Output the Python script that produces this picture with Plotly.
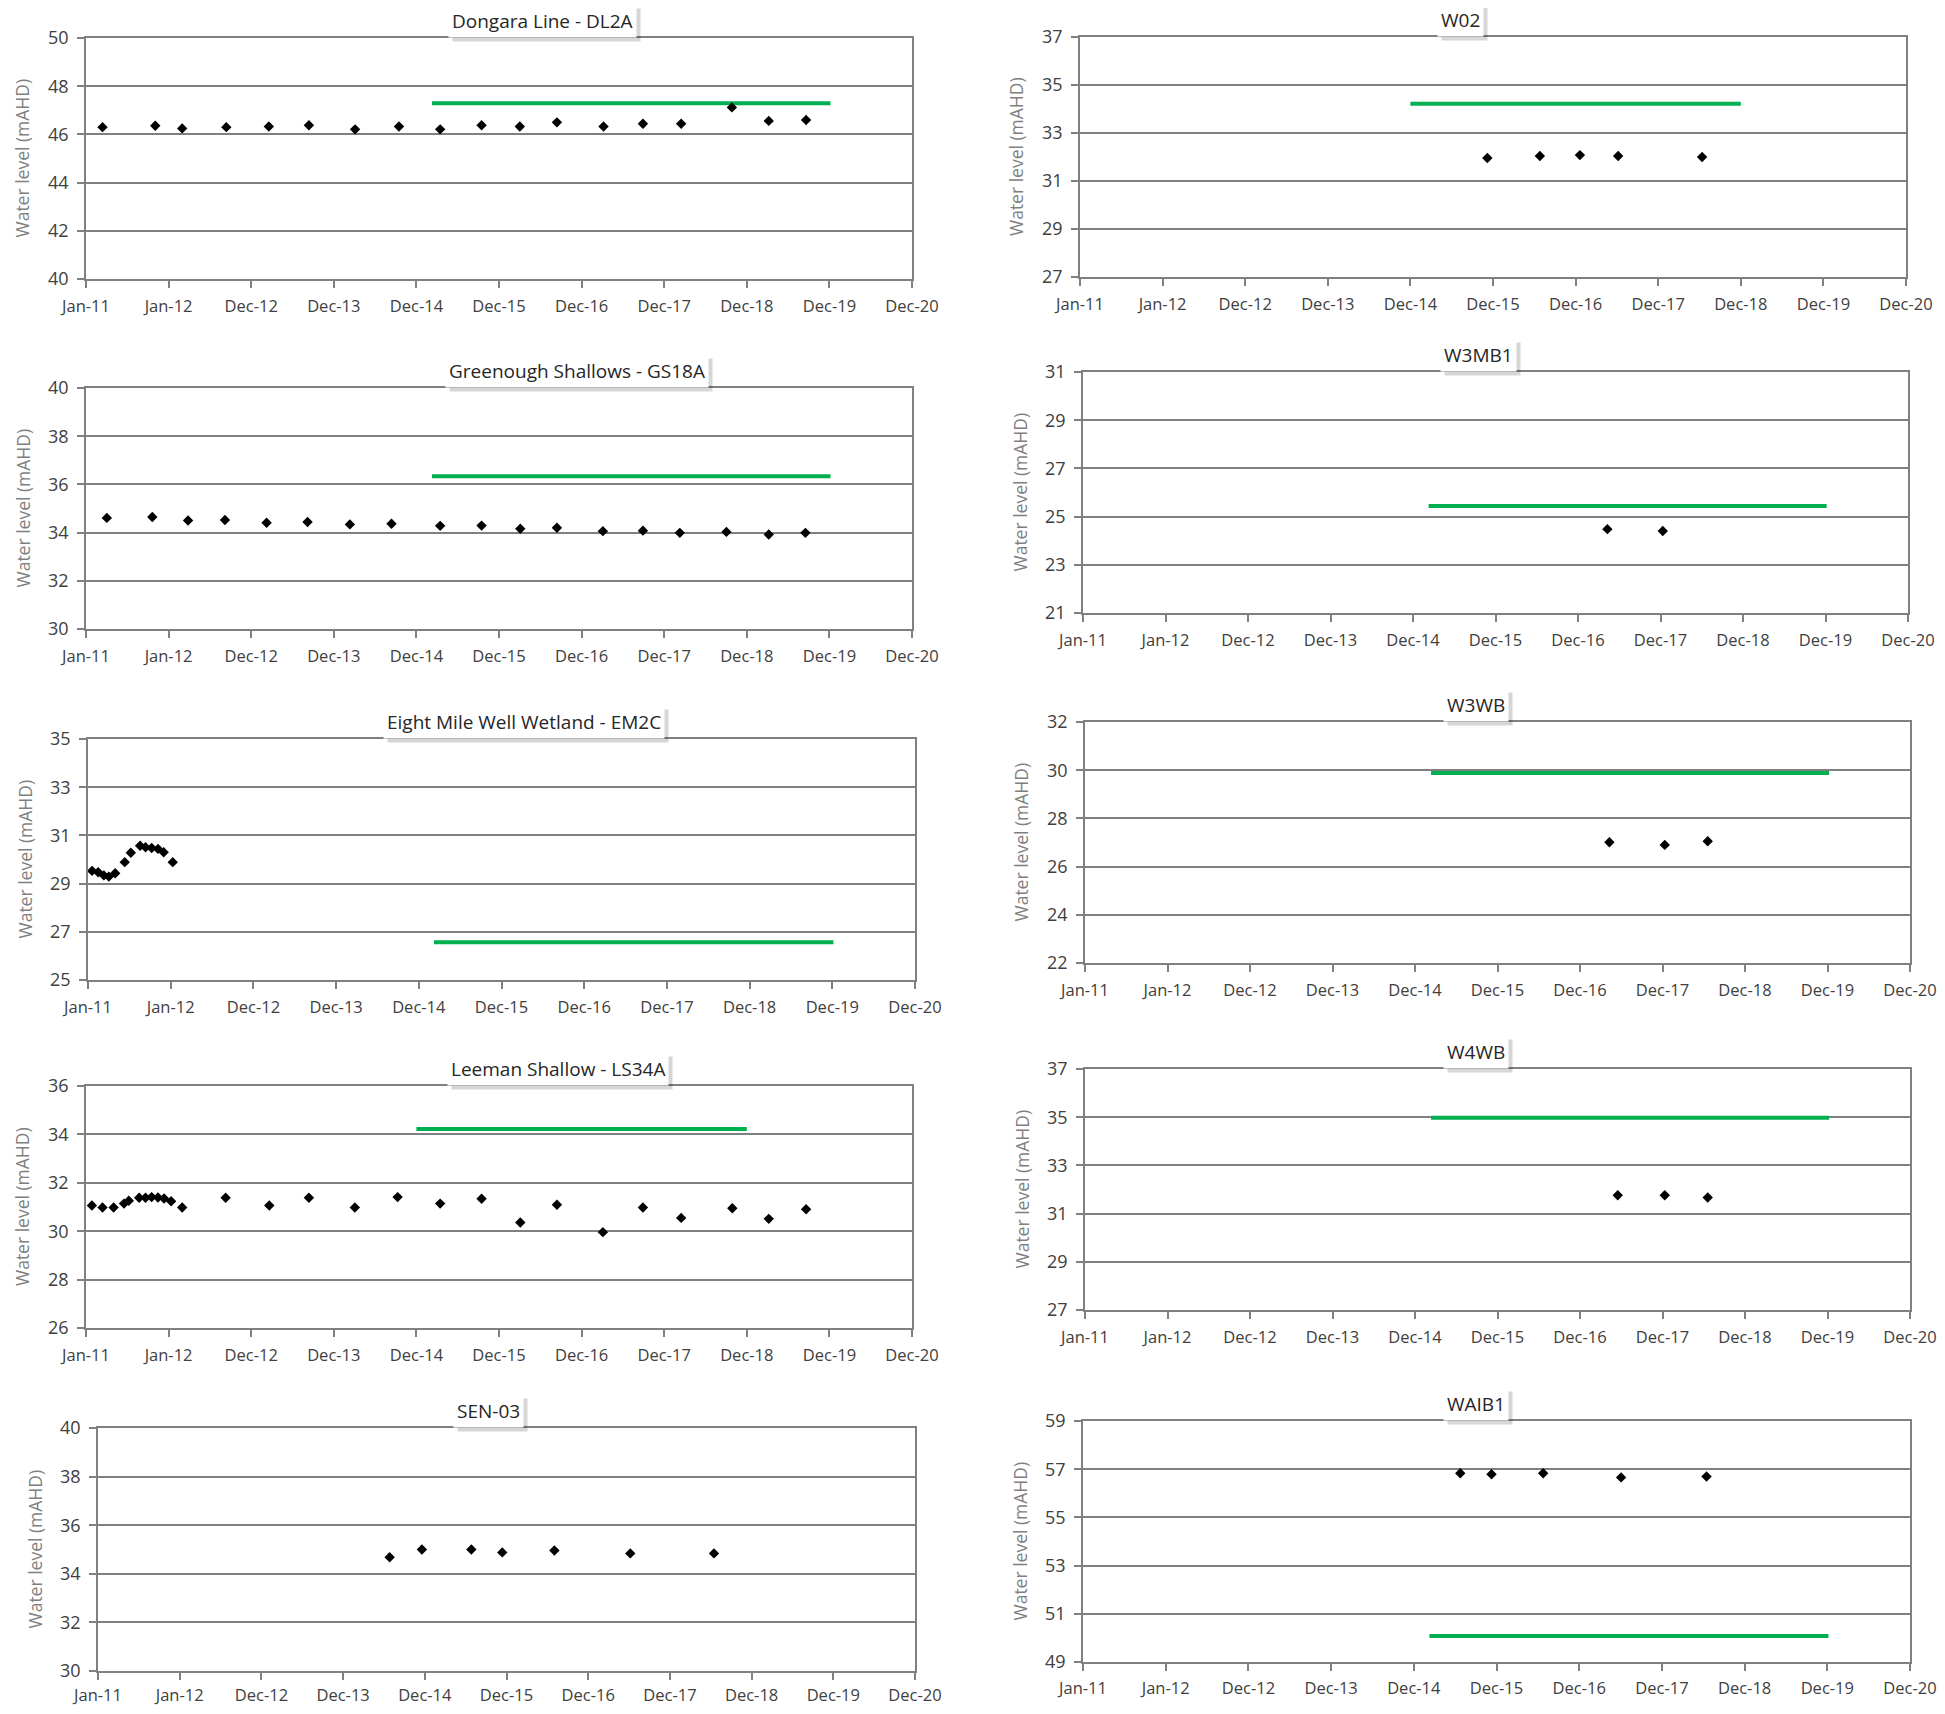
import plotly.graph_objects as go

# ---------------- data ----------------
tick_dates = ["2011-01-01", "2012-01-01", "2012-12-31", "2013-12-31", "2014-12-31",
              "2015-12-31", "2016-12-30", "2017-12-30", "2018-12-30", "2019-12-30", "2020-12-29"]
tick_labels = ["Jan-11", "Jan-12", "Dec-12", "Dec-13", "Dec-14", "Dec-15",
               "Dec-16", "Dec-17", "Dec-18", "Dec-19", "Dec-20"]
x_range = ["2011-01-01", "2020-12-29"]

# Dongara Line - DL2A
dl2a_dates = ["2011-03-15", "2011-11-03", "2012-03-01", "2012-09-12", "2013-03-19", "2013-09-12",
              "2014-04-04", "2014-10-15", "2015-04-15", "2015-10-15", "2016-04-01", "2016-09-12",
              "2017-04-06", "2017-09-27", "2018-03-15", "2018-10-25", "2019-04-06", "2019-09-18"]
dl2a_levels = [46.30, 46.36, 46.25, 46.30, 46.33, 46.38, 46.21, 46.33, 46.21, 46.38, 46.33, 46.50,
               46.33, 46.44, 46.44, 47.12, 46.56, 46.60]
dl2a_trigger_dates = ["2015-03-10", "2020-01-04"]
dl2a_trigger_level = 47.29
dl2a_yrange = [40, 50]

# Greenough Shallows - GS18A
gs18a_dates = ["2011-04-03", "2011-10-21", "2012-03-27", "2012-09-06", "2013-03-09", "2013-09-06",
               "2014-03-12", "2014-09-12", "2015-04-15", "2015-10-15", "2016-04-03", "2016-09-12",
               "2017-04-03", "2017-09-27", "2018-03-09", "2018-10-01", "2019-04-06", "2019-09-15"]
gs18a_levels = [34.61, 34.65, 34.50, 34.52, 34.41, 34.44, 34.34, 34.37, 34.28, 34.29, 34.16, 34.20,
                34.06, 34.08, 33.99, 34.03, 33.92, 33.99]
gs18a_trigger_dates = ["2015-03-10", "2020-01-04"]
gs18a_trigger_level = 36.34
gs18a_yrange = [30, 40]

# Eight Mile Well Wetland - EM2C
em2c_dates = ["2011-01-19", "2011-02-15", "2011-03-12", "2011-04-03", "2011-05-01", "2011-06-12",
              "2011-07-09", "2011-08-19", "2011-09-12", "2011-10-09", "2011-11-06", "2011-12-01",
              "2012-01-10"]
em2c_levels = [29.53, 29.47, 29.34, 29.29, 29.43, 29.89, 30.28, 30.57, 30.51, 30.48, 30.44, 30.30, 29.89]
em2c_trigger_dates = ["2015-03-08", "2020-01-04"]
em2c_trigger_level = 26.57
em2c_yrange = [25, 35]

# Leeman Shallow - LS34A
ls34a_dates = ["2011-01-27", "2011-03-15", "2011-05-03", "2011-06-18", "2011-07-09", "2011-08-24",
               "2011-09-21", "2011-10-18", "2011-11-15", "2011-12-12", "2012-01-12", "2012-03-01",
               "2012-09-09", "2013-03-21", "2013-09-12", "2014-04-03", "2014-10-09", "2015-04-15",
               "2015-10-15", "2016-04-03", "2016-09-12", "2017-04-03", "2017-09-27", "2018-03-15",
               "2018-10-27", "2019-04-06", "2019-09-18"]
ls34a_levels = [31.06, 30.98, 30.98, 31.14, 31.26, 31.38, 31.38, 31.41, 31.39, 31.35, 31.24, 30.98,
                31.38, 31.06, 31.38, 30.98, 31.41, 31.14, 31.34, 30.36, 31.09, 29.96, 30.98, 30.55,
                30.95, 30.51, 30.91]
ls34a_trigger_dates = ["2014-12-31", "2018-12-30"]
ls34a_trigger_level = 34.22
ls34a_yrange = [26, 36]

# SEN-03
sen03_dates = ["2014-07-27", "2014-12-18", "2015-07-27", "2015-12-12", "2016-08-01", "2017-07-06", "2018-07-15"]
sen03_levels = [34.68, 35.00, 35.00, 34.88, 34.96, 34.84, 34.84]
sen03_yrange = [30, 40]

# W02
w02_dates = ["2015-12-06", "2016-07-25", "2017-01-18", "2017-07-06", "2018-07-12"]
w02_levels = [31.96, 32.04, 32.08, 32.04, 32.00]
w02_trigger_dates = ["2014-12-31", "2018-12-30"]
w02_trigger_level = 34.22
w02_yrange = [27, 37]

# W3MB1
w3mb1_dates = ["2017-05-09", "2018-01-09"]
w3mb1_levels = [24.48, 24.40]
w3mb1_trigger_dates = ["2015-03-10", "2020-01-04"]
w3mb1_trigger_level = 25.44
w3mb1_yrange = [21, 31]

# W3WB
w3wb_dates = ["2017-05-09", "2018-01-09", "2018-07-18"]
w3wb_levels = [27.01, 26.90, 27.05]
w3wb_trigger_dates = ["2015-03-12", "2020-01-06"]
w3wb_trigger_level = 29.88
w3wb_yrange = [22, 32]

# W4WB
w4wb_dates = ["2017-06-15", "2018-01-09", "2018-07-18"]
w4wb_levels = [31.76, 31.76, 31.67]
w4wb_trigger_dates = ["2015-03-12", "2020-01-06"]
w4wb_trigger_level = 34.98
w4wb_yrange = [27, 37]

# WAIB1
waib1_dates = ["2015-07-24", "2015-12-09", "2016-07-24", "2017-07-03", "2018-07-15"]
waib1_levels = [56.83, 56.79, 56.83, 56.66, 56.70]
waib1_trigger_dates = ["2015-03-10", "2020-01-04"]
waib1_trigger_level = 50.08
waib1_yrange = [49, 59]

# ---------------- panel table (built from the arrays above) ----------------
# plot-area boxes in window pixels: (left, right, top, bottom), title centre x, label standoff
panels = [
    ("Dongara Line - DL2A", dl2a_dates, dl2a_levels, dl2a_trigger_dates, dl2a_trigger_level, dl2a_yrange, (86, 912, 38, 279), 542, 4),
    ("Greenough Shallows - GS18A", gs18a_dates, gs18a_levels, gs18a_trigger_dates, gs18a_trigger_level, gs18a_yrange, (86, 912, 388, 629), 577, 4),
    ("Eight Mile Well Wetland - EM2C", em2c_dates, em2c_levels, em2c_trigger_dates, em2c_trigger_level, em2c_yrange, (88, 915, 739, 980), 524, 4),
    ("Leeman Shallow - LS34A", ls34a_dates, ls34a_levels, ls34a_trigger_dates, ls34a_trigger_level, ls34a_yrange, (86, 912, 1086, 1328), 558, 4),
    ("SEN-03", sen03_dates, sen03_levels, None, None, sen03_yrange, (98, 915, 1428, 1671), 488, 1),
    ("W02", w02_dates, w02_levels, w02_trigger_dates, w02_trigger_level, w02_yrange, (1080, 1906, 37, 277), 1460, 4),
    ("W3MB1", w3mb1_dates, w3mb1_levels, w3mb1_trigger_dates, w3mb1_trigger_level, w3mb1_yrange, (1083, 1908, 372, 613), 1478, 4),
    ("W3WB", w3wb_dates, w3wb_levels, w3wb_trigger_dates, w3wb_trigger_level, w3wb_yrange, (1085, 1910, 722, 963), 1476, 4),
    ("W4WB", w4wb_dates, w4wb_levels, w4wb_trigger_dates, w4wb_trigger_level, w4wb_yrange, (1085, 1910, 1069, 1310), 1476, 4),
    ("WAIB1", waib1_dates, waib1_levels, waib1_trigger_dates, waib1_trigger_level, waib1_yrange, (1083, 1910, 1421, 1662), 1476, 3),
]

W, H = 1929, 1698
OFF = 8  # default body margin of the page


def px_x(v):
    return (v - OFF) / W


def px_y(v):
    return 1 - (v - OFF) / H


FONT = "Open Sans"
GRID = "#808080"
TICKCOL = "#404040"
GREEN = "#00B050"

fig = go.Figure()
layout = dict(
    width=W, height=H, margin=dict(l=0, r=0, t=0, b=0, autoexpand=False),
    paper_bgcolor="white", plot_bgcolor="white", showlegend=False,
    font=dict(family=FONT, color=TICKCOL),
)
annotations = []

for i, (title, dates, levels, tdates, tlevel, yr, box, tcx, stand) in enumerate(panels, start=1):
    xa = "x" if i == 1 else f"x{i}"
    ya = "y" if i == 1 else f"y{i}"
    left, right, top, bottom = box

    if tdates is not None:
        fig.add_trace(go.Scatter(
            x=tdates, y=[tlevel, tlevel], mode="lines",
            line=dict(color=GREEN, width=4), xaxis=xa, yaxis=ya, hoverinfo="skip"))
    fig.add_trace(go.Scatter(
        x=dates, y=levels, mode="markers",
        marker=dict(symbol="diamond", size=8, color="black", line=dict(width=0)),
        xaxis=xa, yaxis=ya))

    layout[f"xaxis{i}"] = dict(
        domain=[px_x(left), px_x(right)], anchor=ya, type="date", automargin=False,
        range=x_range, tickmode="array", tickvals=tick_dates, ticktext=tick_labels,
        ticks="outside", ticklen=7, tickwidth=1.5, tickcolor=GRID,
        showline=True, linecolor=GRID, linewidth=1.5, mirror=True,
        showgrid=False, zeroline=False, ticklabelstandoff=stand,
        ticklabeloverflow="allow",
        tickfont=dict(family=FONT, size=16.5, color=TICKCOL),
    )
    layout[f"yaxis{i}"] = dict(
        domain=[px_y(bottom), px_y(top)], anchor=xa, automargin=False,
        range=yr, tick0=yr[0], dtick=2, tickmode="linear",
        ticks="outside", ticklen=7, tickwidth=1.5, tickcolor=GRID,
        showline=True, linecolor=GRID, linewidth=1.5, mirror=True,
        showgrid=True, gridcolor=GRID, gridwidth=1.8, zeroline=False,
        ticklabelstandoff=5,
        tickfont=dict(family=FONT, size=18, color=TICKCOL),
    )

    # y axis title
    annotations.append(dict(
        text="Water level (mAHD)", xref="paper", yref="paper",
        x=px_x(left - 64), y=(px_y(top) + px_y(bottom)) / 2,
        xanchor="center", yanchor="middle", textangle=-90, showarrow=False,
        font=dict(family=FONT, size=17.5, color="#7f7f7f")))

    # title box shadow and title box
    annotations.append(dict(
        text=title, xref="paper", yref="paper", x=px_x(tcx), y=px_y(top),
        xanchor="center", yanchor="bottom", showarrow=False, xshift=4, yshift=-4,
        bgcolor="rgba(0,0,0,0.16)", borderpad=3,
        font=dict(family=FONT, size=19, color="rgba(0,0,0,0)")))
    annotations.append(dict(
        text=title, xref="paper", yref="paper", x=px_x(tcx), y=px_y(top),
        xanchor="center", yanchor="bottom", showarrow=False,
        bgcolor="white", borderpad=3,
        font=dict(family=FONT, size=19, color="#262626")))

layout["annotations"] = annotations
fig.update_layout(**layout)
fig.write_html("out.html")
